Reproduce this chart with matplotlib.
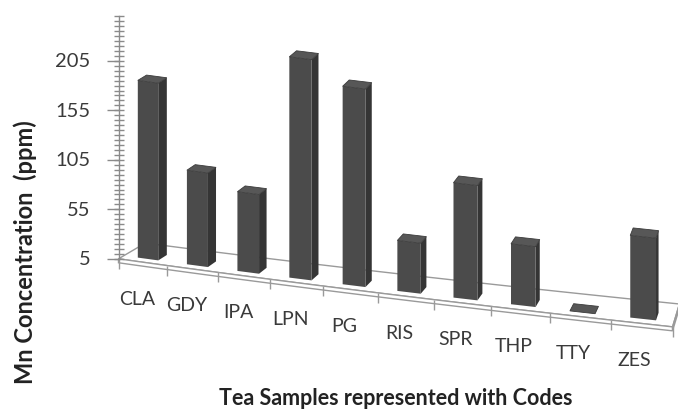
import numpy as np
import matplotlib.pyplot as plt
from matplotlib.transforms import Affine2D
from matplotlib.markers import TICKLEFT

plt.rcParams['font.family'] = ['Lato', 'DejaVu Sans']

# data
codes = ['CLA', 'GDY', 'IPA', 'LPN', 'PG', 'RIS', 'SPR', 'THP', 'TTY', 'ZES']
mn_ppm = [184, 100, 85, 228, 205, 56, 121, 66, 5, 88]
y_ticks = [5, 55, 105, 155, 205]
y_min, y_max, y_minor = 5, 250, 5

# pseudo 3D look (Excel style): floor drops to the right, depth direction
# changes from left to right to fake perspective
s = -6.73      # drop of the floor per category (ppm)
c = 0.0144     # categories get wider to the right


def fwd(x):
    return x + c * x ** 2


def inv(u):
    return (-1 + np.sqrt(np.clip(1 + 4 * c * u, 1e-9, None))) / (2 * c)


def depth_a(x):
    return 0.185 - 0.0148 * (x + 0.5)


def depth_b(x):
    return 5.3 + 0.24 * (x + 0.5)


def proj(x, z, d):
    x = np.asarray(x, float)
    z = np.asarray(z, float)
    d = np.asarray(d, float)
    return x + depth_a(x) * d, z + s * x + depth_b(x) * d


fig = plt.figure(figsize=(6.78, 4.10), dpi=100)
ax = fig.add_axes([0, 0, 1, 1])
ax.set_xscale('function', functions=(fwd, inv))
ax.set_xlim(inv(-148 / 48.7), inv((678 - 148) / 48.7))
ax.set_ylim(5 - 150 / 0.99, 5 + 260 / 0.99)
ax.axis('off')

n = len(codes)
pos = np.arange(n)
vals = np.array(mn_ppm, float)
w = 0.42
D = 1.0
edge_col = '#9a9a9a'

# floor slab
x0, x1 = -0.5, n - 0.5
df, db = -0.6, 2.4
xs = np.linspace(x0, x1, 60)
fx = np.concatenate([xs, xs[::-1]])
X, Y = proj(fx, np.full(fx.size, y_min), np.r_[np.full(60, df), np.full(60, db)])
ax.fill(X, Y, facecolor='white', edgecolor=edge_col, lw=1, zorder=1)
X, Y = proj(fx, np.r_[np.full(60, y_min), np.full(60, y_min - 4)], np.full(fx.size, df))
ax.fill(X, Y, facecolor='white', edgecolor=edge_col, lw=1, zorder=1)
X, Y = proj([x1] * 4, [y_min, y_min, y_min - 4, y_min - 4], [df, db, db, df])
ax.fill(X, Y, facecolor='white', edgecolor=edge_col, lw=1, zorder=1)

# category ticks on the front edge
bx = np.arange(n + 1) - 0.5
BX, BY = proj(bx, np.full(bx.size, y_min), np.full(bx.size, df))
ax.vlines(BX, BY - 10, BY, colors=edge_col, lw=1, zorder=1)

# bars: front faces
shear = Affine2D(np.array([[1, 0, 0], [s, 1, 0], [0, 0, 1]]))
ax.bar(pos, vals - y_min, width=w, bottom=y_min, color='#4b4b4b',
       edgecolor='none', transform=shear + ax.transData, zorder=3)

# side and top faces
for i, v in zip(pos, vals):
    xr = i + w / 2
    X, Y = proj([xr] * 4, [y_min, y_min, v, v], [0, D, D, 0])
    ax.fill(X, Y, facecolor='#353535', edgecolor='none', zorder=2)
    X, Y = proj([i - w / 2, xr, xr, i - w / 2], [v] * 4, [0, 0, D, D])
    ax.fill(X, Y, facecolor='#575757', edgecolor='#3a3a3a', lw=0.6, zorder=4)

# category labels
for i, code in zip(pos, codes):
    lx, ly = proj(i - 0.11, y_min, df)
    ax.text(lx, ly - 37, code, ha='center', va='center', fontsize=14, color='#3a3a3a')

# value axis
zz = np.arange(y_min, y_max + 1, y_minor)
AX, AY = proj(np.full(zz.size, -0.5), zz, np.full(zz.size, df))
ax.plot(AX, AY, color='#8a8a8a', lw=1, zorder=2)
ax.plot(AX, AY, ls='none', marker='_', ms=7, mew=1, color='#8a8a8a', zorder=2)
TX, TY = proj(np.full(len(y_ticks), -0.5), y_ticks, np.full(len(y_ticks), df))
ax.plot(TX, TY, ls='none', marker=TICKLEFT, ms=9, mew=1, color='#8a8a8a', zorder=2)
for t, tx, ty in zip(y_ticks, TX, TY):
    ax.annotate(str(t), (tx, ty), xytext=(-20, 0), textcoords='offset points',
                ha='right', va='center', fontsize=14.5, color='#3a3a3a')

fig.text(0.037, 0.385, 'Mn Concentration  (ppm)', rotation=90, ha='center', va='center',
         fontsize=17, fontweight='bold', color='#222222')
fig.text(0.584, 0.029, 'Tea Samples represented with Codes', ha='center', va='center',
         fontsize=15.5, fontweight='bold', color='#222222')

fig.savefig('out.png', dpi=100)
